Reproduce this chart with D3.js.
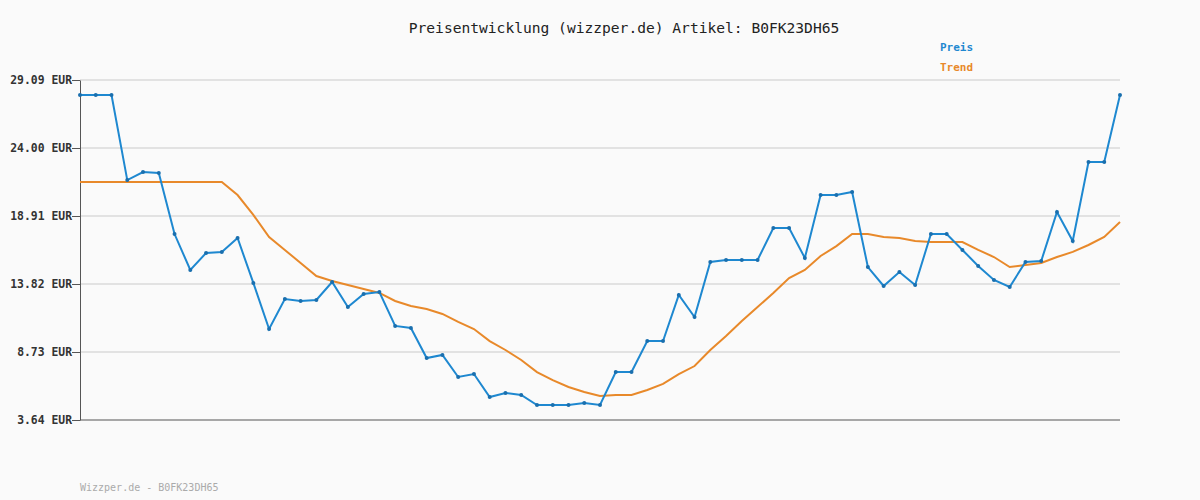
<!DOCTYPE html>
<html><head><meta charset="utf-8">
<script src="https://cdn.jsdelivr.net/npm/d3@7"></script>
<style>body{margin:0;background:#fafafa}text{font-family:"DejaVu Sans Mono",monospace}</style>
</head><body><svg id="c" width="1200" height="500"></svg>
<script>
const priceValues = [27.97,27.97,27.97,21.60,22.20,22.13,17.56,14.87,16.14,16.22,17.26,13.90,10.45,12.70,12.55,12.62,13.97,12.10,13.07,13.22,10.68,10.53,8.28,8.51,6.86,7.08,5.36,5.66,5.51,4.76,4.76,4.76,4.91,4.76,7.23,7.23,9.55,9.55,13.00,11.35,15.47,15.62,15.62,15.62,18.01,18.01,15.77,20.48,20.48,20.71,15.09,13.67,14.72,13.75,17.56,17.56,16.37,15.17,14.12,13.60,15.47,15.54,19.21,17.04,22.95,22.95,27.97];
const trendValues = [21.46,21.46,21.46,21.46,21.46,21.46,21.46,21.46,21.46,21.46,20.48,18.99,17.34,16.37,15.39,14.42,14.05,13.75,13.45,13.15,12.55,12.17,11.95,11.58,10.98,10.45,9.55,8.88,8.13,7.23,6.63,6.11,5.74,5.44,5.51,5.51,5.89,6.34,7.08,7.68,8.88,9.93,11.05,12.10,13.15,14.27,14.87,15.92,16.66,17.56,17.56,17.34,17.26,17.04,16.96,16.96,16.96,16.37,15.84,15.09,15.24,15.39,15.84,16.22,16.74,17.34,18.46];
const yTicks = [3.64,8.73,13.82,18.91,24.00,29.09];

const svg = d3.select("#c");
const x = d3.scaleLinear().domain([0, priceValues.length-1]).range([80,1120]);
const y = d3.scaleLinear().domain([3.64,29.09]).range([420,80]);

svg.append("g").selectAll("line").data(yTicks.slice(1)).join("line")
  .attr("x1",80).attr("x2",1120).attr("y1",d=>y(d)).attr("y2",d=>y(d))
  .attr("stroke","#e2e2e2").attr("stroke-width",2);

const ya = svg.append("g").attr("transform","translate(80,0)")
  .call(d3.axisLeft(y).tickValues(yTicks).tickFormat(d=>d.toFixed(2)+" EUR").tickSize(8).tickSizeOuter(0));
ya.select(".domain").attr("stroke","#555");
ya.selectAll(".tick line").attr("stroke","#555");
ya.selectAll(".tick text").attr("font-size",11.4).attr("font-weight","bold").attr("fill","#333")
  .attr("x",-8).attr("text-anchor","end");
svg.append("line").attr("x1",80).attr("x2",1120).attr("y1",420).attr("y2",420).attr("stroke","#555");

const line = d3.line().x((d,i)=>x(i)).y(d=>y(d));
svg.append("path").datum(trendValues).attr("d",line).attr("fill","none").attr("stroke","#e8892a").attr("stroke-width",2);
svg.append("path").datum(priceValues).attr("d",line).attr("fill","none").attr("stroke","#1e88d0").attr("stroke-width",2);
svg.append("g").selectAll("circle").data(priceValues).join("circle")
  .attr("cx",(d,i)=>x(i)).attr("cy",d=>y(d)).attr("r",2).attr("fill","#1a6fae");

svg.append("text").attr("x",624).attr("y",33).attr("text-anchor","middle").attr("font-size",14.6).attr("fill","#222")
  .text("Preisentwicklung (wizzper.de) Artikel: B0FK23DH65");
svg.append("text").attr("x",940).attr("y",51).attr("font-size",11).attr("font-weight","bold").attr("fill","#1e88d0").text("Preis");
svg.append("text").attr("x",940).attr("y",71).attr("font-size",11).attr("font-weight","bold").attr("fill","#e8892a").text("Trend");
svg.append("text").attr("x",80).attr("y",491).attr("font-size",10).attr("fill","#aaa").text("Wizzper.de - B0FK23DH65");
</script></body></html>
